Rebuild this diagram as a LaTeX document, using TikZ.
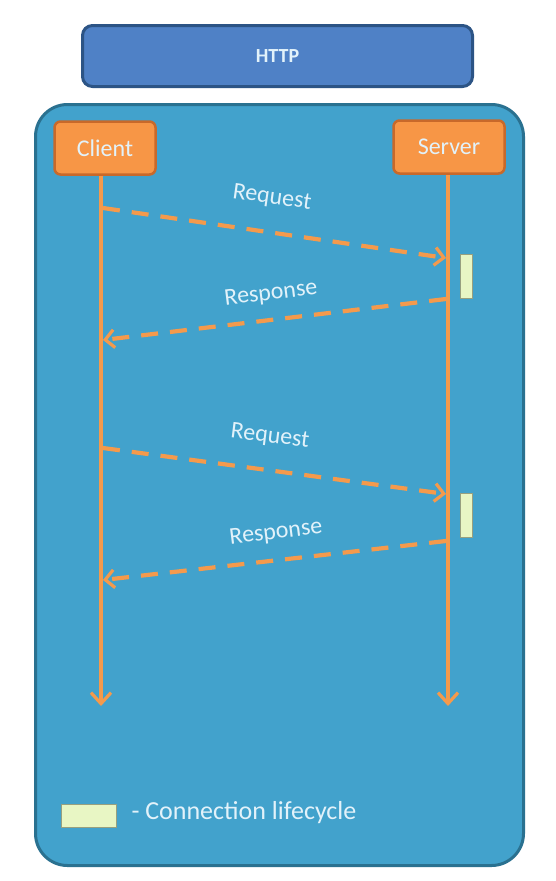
\documentclass[tikz,border=0pt]{standalone}
\usepackage{fontspec}
\setmainfont{Carlito}
\usetikzlibrary{arrows.meta}
\definecolor{httpfill}{HTML}{4F81C6}
\definecolor{httpdraw}{HTML}{2C5485}
\definecolor{mainfill}{HTML}{42A2CC}
\definecolor{maindraw}{HTML}{2A7190}
\definecolor{orfill}{HTML}{F79646}
\definecolor{ordraw}{HTML}{C8692A}
\definecolor{arr}{HTML}{F49A4C}
\definecolor{lite}{HTML}{E8F6C4}
\definecolor{txt}{HTML}{E2F2FA}
\tikzset{
  actor/.style={draw=ordraw, line width=2.5pt, fill=orfill, rounded corners=6pt, text=txt, font=\fontsize{24}{28}\selectfont, inner sep=0pt},
  lifeline/.style={draw=arr, line width=3.2pt, -{Straight Barb[length=11pt,width=20pt,line width=3.2pt]}},
  msg/.style={draw=arr, line width=4.2pt, dash pattern=on 17pt off 12pt, -{Straight Barb[length=9pt,width=18pt,line width=3.2pt]}},
  lbl/.style={text=txt, font=\fontsize{24}{28}\selectfont},
  life/.style={draw=lite!65!black, line width=0.8pt, fill=lite, inner sep=0pt}
}
\begin{document}
\begin{tikzpicture}[x=1pt,y=-1pt]
\useasboundingbox (0,0) rectangle (555,881);
\fill[white] (0,0) rectangle (555,881);
% HTTP box
\node[draw=httpdraw, line width=3pt, fill=httpfill, rounded corners=10pt, minimum width=390pt, minimum height=61pt, text=txt, font=\fontsize{20}{24}\selectfont\bfseries] (http) at (277.5,56) {HTTP};
% main panel
\node[draw=maindraw, line width=3pt, fill=mainfill, rounded corners=32pt, minimum width=488pt, minimum height=761pt] (panel) at (279.5,485) {};
% actors
\node[actor, minimum width=101pt, minimum height=53pt] (client) at (105,148) {Client};
\node[actor, minimum width=111pt, minimum height=53pt] (server) at (449,147) {Server};
% lifeline ends
\coordinate (cend) at (101,706);
\coordinate (send) at (448,706);
\draw[lifeline] (client.south -| cend) -- (cend);
\draw[lifeline] (server.south -| send) -- (send);
% message points
\coordinate (q1s) at (103,208);
\coordinate (q1e) at (446,258);
\coordinate (r1s) at (446,299);
\coordinate (r1e) at (103,340);
\coordinate (q2s) at (103,448);
\coordinate (q2e) at (446,494);
\coordinate (r2s) at (446,541);
\coordinate (r2e) at (103,580);
\draw[msg] (q1s) -- (q1e);
\draw[msg] (r1s) -- (r1e);
\draw[msg] (q2s) -- (q2e);
\draw[msg] (r2s) -- (r2e);
% labels
\node[lbl, rotate=-8] (lq1) at (272,198) {Request};
\node[lbl, rotate=7] (lr1) at (271,294) {Response};
\node[lbl, rotate=-7] (lq2) at (270,437) {Request};
\node[lbl, rotate=7] (lr2) at (276,533) {Response};
% lifecycle bars
\node[life, minimum width=12pt, minimum height=44pt] (lc1) at (466,276) {};
\node[life, minimum width=12pt, minimum height=44pt] (lc2) at (466,515) {};
% legend
\node[life, minimum width=55pt, minimum height=23pt] (leg) at (88.5,815.5) {};
\node[lbl, anchor=west, font=\fontsize{26}{30}\selectfont] (legt) at (128,813) {- Connection lifecycle};
\end{tikzpicture}
\end{document}
